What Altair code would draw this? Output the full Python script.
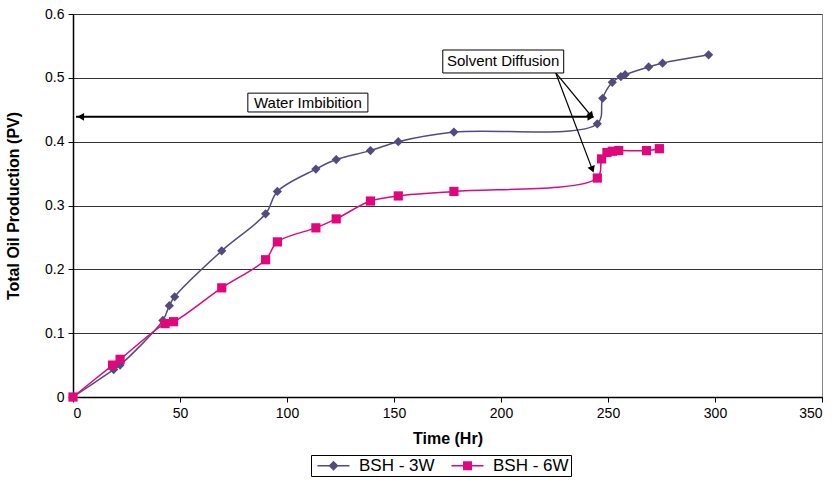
import altair as alt
import pandas as pd

# ---- data ----
x_3w = [0, 19, 22, 42, 45, 47.5, 69.5, 90, 95.5, 113.5, 123, 139, 152, 178,
        245, 247.5, 252, 256, 258, 269, 275.5, 297]
y_3w = [0, 0.043, 0.05, 0.12, 0.143, 0.157, 0.229, 0.287, 0.322, 0.357, 0.372,
        0.386, 0.4, 0.415, 0.428, 0.468, 0.493, 0.502, 0.505, 0.517, 0.523, 0.536]
x_6w = [0, 18.5, 22, 43, 47, 69.5, 90, 95.5, 113.5, 123, 139, 152, 178,
        245, 247, 249.5, 252, 255, 268, 274]
y_6w = [0, 0.05, 0.059, 0.115, 0.118, 0.171, 0.215, 0.243, 0.265, 0.279, 0.307,
        0.315, 0.322, 0.343, 0.373, 0.383, 0.385, 0.386, 0.386, 0.389]
series = ["BSH - 3W", "BSH - 6W"]
colors = ["#534B7F", "#E0077D"]

df3 = pd.DataFrame({"t": x_3w, "v": y_3w, "s": series[0]})
df6 = pd.DataFrame({"t": x_6w, "v": y_6w, "s": series[1]})
df = pd.concat([df3, df6])

# annotations
boxes = pd.DataFrame({
    "label": ["Water Imbibition", "Solvent Diffusion"],
    "x": [81.7, 172.8], "x2": [137.8, 229.3],
    "y": [0.4465, 0.5076], "y2": [0.476, 0.5436],
    "tx": [109.75, 201.0], "ty": [0.4612, 0.5256],
})
arrows = pd.DataFrame({
    "x": [1.4, 225.6, 225.6], "y": [0.439, 0.5076, 0.5076],
    "x2": [242.0, 242.0, 242.6], "y2": [0.439, 0.441, 0.357],
    "w": [2, 1.2, 1.2],
})
heads = pd.DataFrame({
    "x": [3.6, 242.0, 242.2, 242.7], "y": [0.439, 0.439, 0.4405, 0.3565],
    "ang": [180, 0, 49, 69],
})

X = alt.X("t:Q", scale=alt.Scale(domain=[0, 350], nice=False),
          axis=alt.Axis(values=list(range(0, 351, 50)), title="Time (Hr)", grid=False))
Y = alt.Y("v:Q", scale=alt.Scale(domain=[0, 0.6], nice=False),
          axis=alt.Axis(values=[0, 0.1, 0.2, 0.3, 0.4, 0.5, 0.6], format=".1~f",
                        title="Total Oil Production (PV)", grid=True))

def series_layers(d, col, shape, size):
    c = alt.Chart(d)
    ln = c.mark_line(interpolate="catmull-rom", strokeWidth=1.5, color=col).encode(x=X, y=Y)
    pt = c.mark_point(shape=shape, filled=True, size=size, opacity=1, color=col).encode(
        x="t:Q", y="v:Q")
    return [ln, pt]

layers = series_layers(df3, colors[0], "diamond", 85) + series_layers(df6, colors[1], "square", 85)

# legend symbols: a short line with the marker on it (filled sub-paths only)
seg = "M-0.5,-0.1L3.5,-0.1L3.5,0.1L-0.5,0.1Z"
leg_paths = [
    seg + "M1.5,-0.625L2.125,0L1.5,0.625L0.875,0Z",
    seg + "M0.94,-0.56L2.06,-0.56L2.06,0.56L0.94,0.56Z",
]
cscale = alt.Scale(domain=series, range=colors)
pad = "\u00a0\u00a0\u00a0"
# legend-only layer: its marks are placed off-canvas, only the legend is seen
legend_layer = alt.Chart(df).mark_point(filled=True, size=256, opacity=1).encode(
    x=alt.value(-2000), y=alt.value(-2000),
    color=alt.Color("s:N", scale=cscale, title=None,
                    legend=alt.Legend(orient="none", legendX=238, legendY=441,
                                      direction="horizontal",
                                      labelExpr="datum.label == 'BSH - 6W' ? datum.label + '" + pad + "' : datum.label")),
    shape=alt.Shape("s:N", scale=alt.Scale(domain=series, range=leg_paths), title=None),
)

rects = alt.Chart(boxes).mark_rect(fill="white", stroke="black", strokeWidth=1).encode(
    x="x:Q", x2="x2:Q", y="y:Q", y2="y2:Q")
texts = alt.Chart(boxes).mark_text(font="Liberation Sans", fontSize=15, color="black").encode(
    x="tx:Q", y="ty:Q", text="label:N")
arrow_lines = alt.Chart(arrows).mark_rule(color="black").encode(
    x="x:Q", y="y:Q", x2="x2:Q", y2="y2:Q", strokeWidth=alt.StrokeWidth("w:Q", scale=None))
arrow_heads = alt.Chart(heads).mark_point(shape="triangle-right", filled=True,
                                          color="black", size=60, opacity=1).encode(
    x="x:Q", y="y:Q", angle=alt.Angle("ang:Q", scale=None))

chart = alt.layer(*layers, legend_layer, arrow_lines, arrow_heads, rects, texts).properties(
    width=749, height=383,
    autosize=alt.AutoSizeParams(type="none"),
    padding={"left": 73, "top": 14, "right": 14, "bottom": 88},
).configure_view(stroke="#888888", strokeWidth=1).configure_axis(
    labelFont="Liberation Sans", labelFontSize=14, labelColor="black",
    titleFont="Liberation Sans", titleFontSize=16, titleFontWeight="bold", titleColor="black",
    domainColor="black", domainWidth=1.5, tickColor="black", tickSize=5,
    gridColor="#333333", gridWidth=1,
).configure_axisY(titlePadding=23, labelPadding=4).configure_axisX(
    titlePadding=10, labelPadding=4).configure_legend(
    labelFont="Liberation Sans", labelFontSize=17, labelColor="black",
    strokeColor="black", strokeWidth=1, padding=2, symbolSize=256,
    columnPadding=12, symbolStrokeWidth=0, labelOffset=29,
)

chart.save("out.html", embed_options={"renderer": "svg", "actions": False})
